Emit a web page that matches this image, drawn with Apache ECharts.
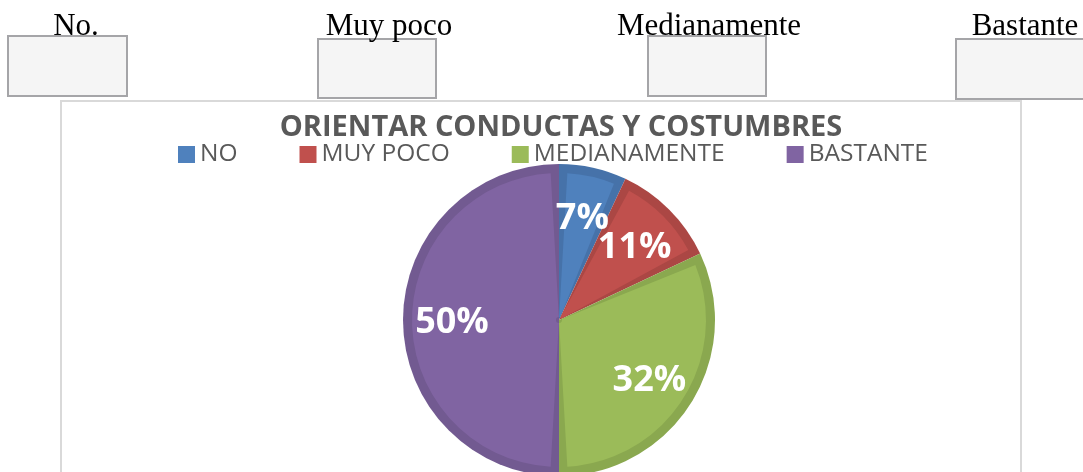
<!DOCTYPE html>
<html>
<head>
<meta charset="utf-8">
<title>Orientar conductas y costumbres</title>
<script src="https://cdn.jsdelivr.net/npm/echarts@6/dist/echarts.min.js"></script>
<style>
  html, body { margin: 0; padding: 0; background: #ffffff; }
  #chart { width: 1083px; height: 472px; }
</style>
</head>
<body>
<div id="chart"></div>
<script>
// Survey answers and their shares (percent)
const categories = ['NO', 'MUY POCO', 'MEDIANAMENTE', 'BASTANTE'];
const shares = [7, 11, 32, 50];

// Answer headings printed above the chart, each with an empty tick box
const headerLabels = ['No.', 'Muy poco', 'Medianamente', 'Bastante'];

const chartTitle = 'ORIENTAR CONDUCTAS Y COSTUMBRES';

// Slice fill and its darker bevel edge
const fillColors = ['#4f81bd', '#c0504d', '#9bbb59', '#8064a2'];
const edgeColors = ['#4672a9', '#ab4744', '#8aa84f', '#725a91'];

const headerX = [76, 389, 709, 1025];
const boxes = [
  { x: 8, y: 36, w: 119, h: 60 },
  { x: 318, y: 39, w: 118, h: 59 },
  { x: 648, y: 36, w: 118, h: 60 },
  { x: 956, y: 39, w: 134, h: 60 }
];

const chart = echarts.init(document.getElementById('chart'), null, { renderer: 'canvas' });

const center = [559, 320];
const pieRadius = 156;
// share labels sit at about two thirds of the radius
const labelRadius = 107;

const total = shares.reduce(function (a, b) { return a + b; }, 0);

// mid-angle of each slice on a 0..total angle scale, for placing its label
let running = 0;
const labelPoints = shares.map(function (v, i) {
  const mid = running + v / 2;
  running += v;
  return { name: categories[i], value: [labelRadius, mid], share: v };
});

const graphics = [
  {
    type: 'rect', z: 0,
    shape: { x: 61, y: 101, width: 960, height: 420 },
    style: { fill: '#ffffff', stroke: '#d9d9d9', lineWidth: 2 }
  }
];
boxes.forEach(function (b) {
  graphics.push({
    type: 'rect', z: 1,
    shape: { x: b.x, y: b.y, width: b.w, height: b.h },
    style: { fill: '#f5f5f5', stroke: '#a5a5a8', lineWidth: 2 }
  });
});
headerLabels.forEach(function (t, i) {
  graphics.push({
    type: 'text', z: 2,
    x: headerX[i], y: 11,
    style: {
      text: t,
      fill: '#000000',
      font: '31px "Liberation Serif", "Times New Roman", serif',
      align: 'center',
      verticalAlign: 'top'
    }
  });
});

const pieData = function (colors) {
  return categories.map(function (name, i) {
    return { name: name, value: shares[i], itemStyle: { color: colors[i] } };
  });
};

chart.setOption({
  animation: false,
  backgroundColor: '#ffffff',
  graphic: graphics,
  title: {
    text: chartTitle,
    left: 561,
    textAlign: 'center',
    top: 113,
    padding: 0,
    textStyle: {
      fontFamily: '"Open Sans", sans-serif',
      fontWeight: 'bold',
      fontSize: 29,
      color: '#595959'
    }
  },
  legend: {
    data: categories.map(function (name, i) {
      return { name: name, icon: 'rect', itemStyle: { color: fillColors[i] } };
    }),
    left: 178,
    top: 142,
    padding: 0,
    itemGap: 62,
    itemWidth: 17,
    itemHeight: 17,
    selectedMode: false,
    textStyle: {
      fontFamily: '"Open Sans", sans-serif',
      fontSize: 24.5,
      color: '#595959',
      padding: [0, 0, 0, 0]
    }
  },
  // polar frame matching the pie, used only to place the share labels
  polar: { center: center, radius: pieRadius },
  angleAxis: {
    type: 'value', min: 0, max: total, startAngle: 90, clockwise: true,
    show: false
  },
  radiusAxis: {
    type: 'value', min: 0, max: pieRadius, show: false
  },
  series: [
    {
      // darker base disc: shows as the bevel rim of each slice
      type: 'pie',
      center: center,
      radius: pieRadius,
      startAngle: 90,
      clockwise: true,
      silent: true,
      label: { show: false },
      labelLine: { show: false },
      data: pieData(edgeColors),
      z: 2
    },
    {
      // lighter face of each slice, inset from the rim
      type: 'pie',
      center: center,
      radius: [3, pieRadius - 9],
      startAngle: 90,
      clockwise: true,
      padAngle: 6.5,
      silent: true,
      label: { show: false },
      labelLine: { show: false },
      data: pieData(fillColors),
      z: 3
    },
    {
      // percentage labels
      type: 'scatter',
      coordinateSystem: 'polar',
      symbolSize: 0,
      silent: true,
      z: 5,
      itemStyle: { opacity: 1 },
      label: {
        show: true,
        position: 'inside',
        offset: [0, 3],
        opacity: 1,
        formatter: function (p) { return p.data.share + '%'; },
        fontFamily: '"Open Sans", sans-serif',
        fontWeight: 'bold',
        fontSize: 36,
        color: '#ffffff'
      },
      data: labelPoints
    }
  ]
});
</script>
</body>
</html>
